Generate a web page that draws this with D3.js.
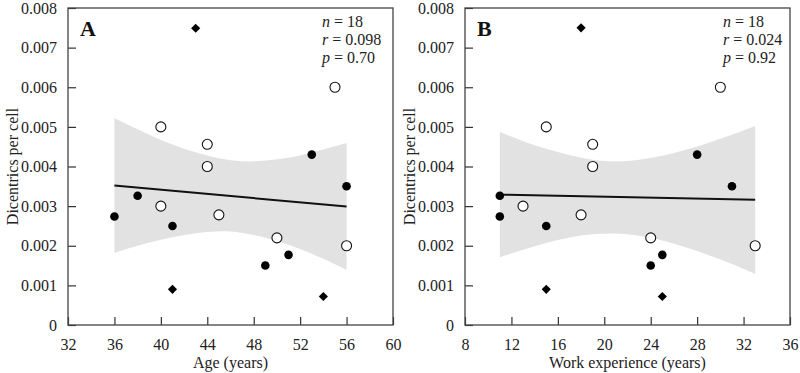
<!DOCTYPE html>
<html><head><meta charset="utf-8">
<script src="https://cdn.jsdelivr.net/npm/d3@7"></script>
<style>html,body{margin:0;padding:0;background:#fff}svg{display:block}</style>
</head><body>
<svg id="c" width="800" height="373"></svg>
<script>
// ---- Panel A: Age ----
const ageFilled = [[36,0.00274],[38,0.00326],[41,0.0025],[49,0.0015],[51,0.00177],[53,0.0043],[56,0.0035]];
const ageOpen = [[40,0.005],[44,0.00456],[44,0.004],[40,0.003],[45,0.00278],[50,0.0022],[56,0.002],[55,0.006]];
const ageDiamond = [[43,0.00749],[41,0.0009],[54,0.00072]];
const ageLine = [[36,0.00352],[56,0.00299]];
const ageBandX = [36,38,40,42,44,46,48,50,52,54,56];
const ageBandUpper = [0.00522,0.00494,0.00467,0.00445,0.00428,0.00416,0.00413,0.00418,0.00428,0.00443,0.00459];
const ageBandLower = [0.00182,0.00200,0.00215,0.00227,0.00235,0.00236,0.00227,0.00212,0.00192,0.00167,0.00139];
const ageTicks = [32,36,40,44,48,52,56,60];

// ---- Panel B: Work experience ----
const expFilled = [[11,0.00274],[11,0.00326],[15,0.0025],[24,0.0015],[25,0.00177],[28,0.0043],[31,0.0035]];
const expOpen = [[15,0.005],[19,0.00456],[19,0.004],[13,0.003],[18,0.00278],[24,0.0022],[33,0.002],[30,0.006]];
const expDiamond = [[18,0.0075],[15,0.0009],[25,0.00072]];
const expLine = [[11,0.00329],[33,0.00316]];
const expBandX = [11,13,15,17,19,21,23,25,27,29,31,33];
const expBandUpper = [0.00487,0.00464,0.00445,0.00429,0.00417,0.00413,0.00417,0.00427,0.00442,0.00460,0.00480,0.00502];
const expBandLower = [0.00171,0.00190,0.00207,0.00221,0.00229,0.00231,0.00225,0.00213,0.00196,0.00176,0.00154,0.00129];
const expTicks = [8,12,16,20,24,28,32,36];

const yTicks = [0,0.001,0.002,0.003,0.004,0.005,0.006,0.007,0.008];
const yTickLabels = ["0","0.001","0.002","0.003","0.004","0.005","0.006","0.007","0.008"];

const panels = [
  {left:68, right:393, dom:[32,60], ticks:ageTicks, filled:ageFilled, open:ageOpen, diamond:ageDiamond,
   line:ageLine, bx:ageBandX, bu:ageBandUpper, bl:ageBandLower, letter:"A", xTitle:"Age (years)",
   stats:[["n"," = 18"],["r"," = 0.098"],["p"," = 0.70"]], statX:322},
  {left:465, right:790, dom:[8,36], ticks:expTicks, filled:expFilled, open:expOpen, diamond:expDiamond,
   line:expLine, bx:expBandX, bu:expBandUpper, bl:expBandLower, letter:"B", xTitle:"Work experience (years)",
   stats:[["n"," = 18"],["r"," = 0.024"],["p"," = 0.92"]], statX:723}
];

const svg = d3.select("#c");
const plotTop = 8, plotBottom = 325;
const font = "'Liberation Serif','Times New Roman',serif";

panels.forEach(P => {
  const x = d3.scaleLinear().domain(P.dom).range([P.left, P.right]);
  const y = d3.scaleLinear().domain([0,0.008]).range([plotBottom, plotTop]);
  const g = svg.append("g");

  const band = P.bx.map((v,i)=>({x:v,u:P.bu[i],l:P.bl[i]}));
  g.append("path").datum(band)
    .attr("d", d3.area().x(d=>x(d.x)).y0(d=>y(d.l)).y1(d=>y(d.u)).curve(d3.curveCatmullRom))
    .attr("fill","#e2e2e2");

  g.append("path").datum(P.line)
    .attr("d", d3.line().x(d=>x(d[0])).y(d=>y(d[1])))
    .attr("stroke","#111").attr("stroke-width",2).attr("fill","none");

  const xAxis = d3.axisBottom(x).tickValues(P.ticks).tickSize(-8).tickPadding(14).tickFormat(d3.format("d"));
  const gx = g.append("g").attr("transform",`translate(0,${plotBottom})`).call(xAxis);
  const yAxis = d3.axisLeft(y).tickValues(yTicks).tickSize(-8).tickPadding(11).tickFormat((d,i)=>yTickLabels[i]);
  const gy = g.append("g").attr("transform",`translate(${P.left},0)`).call(yAxis);
  [gx,gy].forEach(a=>{
    a.select(".domain").remove();
    a.selectAll("line").attr("stroke","#333").attr("stroke-width",1.2);
    a.selectAll("text").attr("font-family",font).attr("font-size",16).attr("fill","#222");
  });

  g.append("rect").attr("x",P.left).attr("y",plotTop).attr("width",P.right-P.left).attr("height",plotBottom-plotTop)
    .attr("fill","none").attr("stroke","#444").attr("stroke-width",1.3);

  g.selectAll(".op").data(P.open).enter().append("circle")
    .attr("cx",d=>x(d[0])).attr("cy",d=>y(d[1])).attr("r",5)
    .attr("fill","#fff").attr("stroke","#111").attr("stroke-width",1.1);
  g.selectAll(".fp").data(P.filled).enter().append("circle")
    .attr("cx",d=>x(d[0])).attr("cy",d=>y(d[1])).attr("r",4.3).attr("fill","#000");
  g.selectAll(".dp").data(P.diamond).enter().append("path")
    .attr("d", d3.symbol().type(d3.symbolSquare).size(42))
    .attr("transform",d=>`translate(${x(d[0])},${y(d[1])}) rotate(45)`)
    .attr("fill","#000");

  g.append("text").attr("x",P.left+12).attr("y",36).text(P.letter)
    .attr("font-family",font).attr("font-size",22).attr("font-weight","bold").attr("fill","#111");

  P.stats.forEach((s,i)=>{
    const t = g.append("text").attr("x",P.statX).attr("y",27+i*18)
      .attr("font-family",font).attr("font-size",16).attr("fill","#222");
    t.append("tspan").attr("font-style","italic").text(s[0]);
    t.append("tspan").text(s[1]);
  });

  g.append("text").attr("x",(P.left+P.right)/2).attr("y",368).attr("text-anchor","middle")
    .text(P.xTitle).attr("font-family",font).attr("font-size",16).attr("fill","#222");
  g.append("text").attr("transform",`translate(${P.left-50},${(plotTop+plotBottom)/2}) rotate(-90)`)
    .attr("text-anchor","middle").text("Dicentrics per cell")
    .attr("font-family",font).attr("font-size",16).attr("fill","#222");
});
</script>
</body></html>
